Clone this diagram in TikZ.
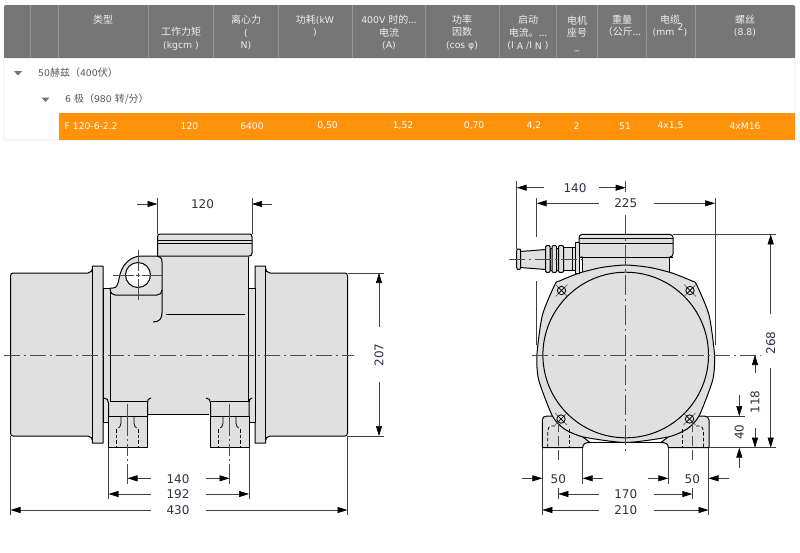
\documentclass[tikz,border=0pt]{standalone}
\usepackage{fontspec}
\setmainfont{DejaVu Sans}
\newfontfamily\cjk{Noto Sans CJK SC}
\newfontfamily\latf[Scale=0.93]{DejaVu Sans}
\usetikzlibrary{arrows.meta}
\definecolor{hdr}{RGB}{118,118,118}
\definecolor{hdrline}{RGB}{150,150,150}
\definecolor{hdrtxt}{RGB}{238,238,238}
\definecolor{orng}{RGB}{255,146,10}
\definecolor{body}{RGB}{224,224,224}
\definecolor{dimtxt}{RGB}{45,50,70}
\tikzset{
 x=1pt,y=-1pt,
 hd/.style={font=\fontsize{10}{12.6}\selectfont\cjk,text=hdrtxt,align=center,inner sep=0pt,anchor=center},
 rowt/.style={font=\fontsize{10}{12}\selectfont\cjk,text=black!65,inner sep=0pt,anchor=west},
 val/.style={font=\fontsize{9.2}{10}\selectfont,text=white,inner sep=0pt,anchor=center},
 dimt/.style={font=\fontsize{12}{12}\selectfont,text=dimtxt,inner sep=0pt,anchor=center},
 obj/.style={draw=black,line width=1pt,line join=round},
 objf/.style={obj,fill=body},
 thin1/.style={draw=black!75,line width=0.6pt},
 ctr/.style={draw=black!70,line width=0.6pt,dash pattern=on 16pt off 4pt on 2pt off 4pt},
 hid/.style={draw=black,line width=0.8pt,dash pattern=on 3.5pt off 2.2pt},
 dim/.style={draw=black!75,line width=0.6pt,-{Triangle[length=10pt,width=6pt,black]}},
}
\begin{document}
\begin{tikzpicture}
\useasboundingbox (0,0) rectangle (800,552);
\fill[white] (0,0) rectangle (800,552);
% ---------- table
\draw[black!8,line width=0.8pt,rounded corners=2pt,fill=white] (4,5) rectangle (795,140);
\fill[hdr,rounded corners=2pt] (4,5) rectangle (795,58);
\fill[hdr] (4,40) rectangle (795,58);
\foreach \xx in {30.5,58.5,148,213.5,278.5,352,425.5,499.5,556.5,597.5,646,695}{
 \draw[hdrline,line width=0.6pt] (\xx,5) -- (\xx,58);}
\fill[orng] (58.5,113) rectangle (795,139.5);
\node[hd] (h1) at (103,20) {类型};
\node[hd] (h2) at (181,38.7) {工作力矩\\{\latf(kgcm )}};
\node[hd] (h3) at (246,32.5) {离心力\\{\latf(}\\{\latf N)}};
\node[hd] (h4) at (315,26) {功耗{\latf(kW}\\{\latf)}};
\node[hd] (h5) at (389,32.5) {{\latf 400V }时的...\\电流\\{\latf(A)}};
\node[hd] (h6) at (462,32.5) {功率\\因数\\{\latf(cos φ)}};
\node[hd] (h7) at (528,32.5) {启动\\电流。...\\{\latf(I\raisebox{-1pt}{ A }/I\raisebox{-1pt}{ N })}};
\node[hd] (h8) at (577,33.5) {电机\\座号\\{\latf\_}};
\node[hd] (h9) at (622,26) {重量\\（公斤...};
\node[hd] (h10) at (670,26) {电缆\\{\latf(mm\quad)}};
\node[hd,font=\fontsize{9.5}{11}\selectfont] (h10b) at (680.5,27) {2};
\node[hd] (h11) at (745,26) {螺丝\\{\latf(8.8)}};
\fill[black!55] (14,71) -- (22,71) -- (18,75.5) -- cycle;
\fill[black!55] (41.5,97.5) -- (49.5,97.5) -- (45.5,102) -- cycle;
\node[rowt] (r1) at (38,73) {{\latf 50}赫兹（{\latf 400}伏）};
\node[rowt] (r2) at (65,99.5) {{\latf 6 }极（{\latf 980 }转/分）};
\node[val,anchor=west] (v1) at (64.5,126) {F 120-6-2.2};
\node[val] (v2) at (189.5,126) {120};
\node[val] (v3) at (252,126) {6400};
\node[val] (v4) at (327.5,126) {0,50};
\node[val] (v5) at (403,126) {1,52};
\node[val] (v6) at (474,126) {0,70};
\node[val] (v7) at (534,126) {4,2};
\node[val] (v8) at (576.5,126) {2};
\node[val] (v9) at (625,126) {51};
\node[val] (v10) at (670.5,126) {4x1,5};
\node[val] (v11) at (745,126) {4xM16};
% ---------- left view
\fill[body] (110,288) -- (113,288) .. controls (117,288) and (118,284) .. (119,279) .. controls (121,265) and (130,256) .. (142,256) -- (157,256) -- (157.5,234) -- (252,234) -- (252,256) -- (248,257) -- (248,414) -- (110,414) -- cycle;
\draw[objf] (10.5,276) .. controls (10.5,274) and (11.5,273) .. (13,273) -- (88,273) .. controls (91,273) and (92.5,271) .. (92.5,266) -- (103,266) -- (103,443) -- (92.5,443) .. controls (92.5,438) and (91,436) .. (88,436) -- (13,436) .. controls (11.5,436) and (10.5,435) .. (10.5,433) -- cycle;
\draw[objf] (347.5,276) .. controls (347.5,274) and (346.5,273) .. (345,273) -- (270,273) .. controls (267,273) and (265.5,271) .. (265.5,266) -- (255,266) -- (255,443) -- (265.5,443) .. controls (265.5,438) and (267,436) .. (270,436) -- (345,436) .. controls (346.5,436) and (347.5,435) .. (347.5,433) -- cycle;
\draw[obj] (92.5,266) -- (92.5,443) (265.5,266) -- (265.5,443);
\draw[objf] (103,288) rectangle (110,422);
\draw[objf] (248,288) rectangle (255,422);
\draw[obj] (110,288) -- (110,402);
\draw[obj] (248,257) -- (248,288);
% terminal box
\draw[objf] (157.5,256) -- (157.5,237) .. controls (157.5,235) and (158.5,234) .. (160,234) -- (249.5,234) .. controls (251,234) and (252,235) .. (252,237) -- (252,253) .. controls (252,255) and (251,256) .. (249,256) -- cycle;
\draw[obj] (157.5,240) -- (252,240);
\draw[obj] (157.5,243) -- (252,243);
% lug
\draw[objf] (110,288) -- (113,288) .. controls (117,288) and (118,284) .. (119,279) .. controls (121,265) and (130,256) .. (142,256) -- (157,256) .. controls (160,256) and (162,258) .. (162,262) -- (162,290) .. controls (162,293) and (160,295) .. (157,295) -- (115,295) .. controls (112,295) and (110.5,293) .. (110,288);
\draw[obj] (162,290) -- (162,313) .. controls (162,319) and (159,322) .. (153,322);
\draw[obj,fill=white] (138,275) circle[radius=12.5];
\draw[line width=0.5pt,black!70] (113,275) -- (134,275) (136,275) -- (140,275) (142,275) -- (163,275);
\draw[line width=0.5pt,black!70] (138,250) -- (138,271) (138,273) -- (138,277) (138,279) -- (138,300);
\draw[obj] (166,314) -- (244.5,314);
% feet
\draw[obj] (148,414) -- (209,414);
\draw[objf] (108.5,416.5) rectangle (147.5,447.5);
\draw[objf] (210,416.5) rectangle (249,447.5);
\fill[body] (108.5,401) rectangle (147,416);
\fill[body] (210,401) rectangle (248.5,416);
\draw[obj] (104,398) .. controls (107,398) and (108.5,400) .. (108.5,403) -- (108.5,416.5);
\draw[obj] (151,398) .. controls (148,398) and (147.5,400) .. (147.5,403) -- (147.5,416.5);
\draw[obj] (206,398) .. controls (209,398) and (210.5,400) .. (210.5,403) -- (210.5,416.5);
\draw[obj] (252,398) .. controls (250,398) and (249,400) .. (249,403) -- (249,416.5);
\draw[obj] (110,401) -- (147,401);
\draw[obj] (211,401) -- (248.5,401);
\foreach \cc in {127.5,229.5}{
 \draw[line width=0.75pt,black] (\cc-6.5,417) -- (\cc-6.5,423) .. controls (\cc-6.5,426) and (\cc-8,427) .. (\cc-9,428);
 \draw[line width=0.75pt,black] (\cc+6.5,417) -- (\cc+6.5,423) .. controls (\cc+6.5,426) and (\cc+8,427) .. (\cc+9,428);
 \draw[hid] (\cc-11,429) -- (\cc-11,447);
 \draw[hid] (\cc+11,429) -- (\cc+11,447);
 \draw[ctr,dash pattern=on 32pt off 3pt on 2pt off 3pt on 12pt off 3pt on 2pt off 3pt] (\cc,404) -- (\cc,484);
}
\draw[ctr] (4,355) -- (354,355);
% dims left
\coordinate (a120l) at (157.5,204); \coordinate (a120r) at (252,204);
\draw[thin1] (157.5,198) -- (157.5,234) (252,198) -- (252,234);
\draw[dim] (137,204) -- (a120l);
\draw[dim] (272,204) -- (a120r);
\node[dimt] (d120) at (202.5,204) {120};
\draw[thin1] (348,273) -- (384,273) (348,436) -- (384,436);
\coordinate (a207t) at (379,273); \coordinate (a207b) at (379,436);
\draw[dim] (379,327) -- (a207t);
\draw[dim] (379,382) -- (a207b);
\node[dimt,rotate=90] (d207) at (379,355) {207};
\draw[thin1] (108.5,448) -- (108.5,499) (249,448) -- (249,499);
\draw[thin1] (10.5,436) -- (10.5,515) (347.5,436) -- (347.5,515);
\coordinate (a140l) at (127.5,478.3); \coordinate (a140r) at (229.5,478.3);
\draw[dim] (151,478.3) -- (a140l);
\draw[dim] (206,478.3) -- (a140r);
\node[dimt] (d140) at (178,479) {140};
\coordinate (a192l) at (108.5,494); \coordinate (a192r) at (249,494);
\draw[dim] (151,494) -- (a192l);
\draw[dim] (206,494) -- (a192r);
\node[dimt] (d192) at (178,494.5) {192};
\coordinate (a430l) at (10.5,510); \coordinate (a430r) at (347.5,510);
\draw[dim] (151,510) -- (a430l);
\draw[dim] (206,510) -- (a430r);
\node[dimt] (d430) at (178,510) {430};
% ---------- right view
\draw[thin1] (536.7,198) -- (536.7,237) (536.7,281) -- (536.7,345);
\draw[thin1] (715,198) -- (715,345);
% feet
\draw[objf] (542.3,447.7) -- (542.3,420) .. controls (542.3,417.5) and (544,416) .. (547,416) -- (556,416) -- (590,442.5) .. controls (585,442.5) and (582.7,444) .. (582.7,447.7) -- cycle;
\draw[objf] (709,447.7) -- (709,420) .. controls (709,417.5) and (707,416) .. (704,416) -- (695,416) -- (661,442.5) .. controls (666,442.5) and (668.3,444) .. (668.3,447.7) -- cycle;
% terminal neck
\draw[objf] (582,250) rectangle (669,285);
% outer frame
\draw[objf] plot[smooth cycle,tension=0.4] coordinates {(625.7,265) (650,267.5) (672,273) (692,281) (696.5,284.5) (709,315) (714.5,355) (712.7,380) (699,416) (687,429) (668,437) (625.7,442.5) (583.4,437) (564.4,429) (552.4,416) (538.7,380) (536.9,355) (542.4,315) (554.9,284.5) (559.4,281) (579.4,273) (601.4,267.5)};
\draw[objf] (625.7,355) circle[radius=82.8];
% terminal box
\draw[objf] (579,257) -- (579,237.5) .. controls (579,235.5) and (580.5,234.3) .. (582.5,234.3) -- (669.5,234.3) .. controls (671.5,234.3) and (673,235.5) .. (673,237.5) -- (673,254) .. controls (673,256) and (671.5,257) .. (670,257) -- cycle;
\draw[obj] (579,238.5) -- (673,238.5) (579,243) -- (673,243);
\fill[body] (582.5,256) rectangle (668.5,264);
\draw[obj] (579,257) -- (673,257);
\draw[obj] (582,257) -- (582,268) (669,257) -- (669,272);
% cable gland
\draw[objf] (575.7,242) rectangle (579,273.5);
\draw[objf] (520,251.5) -- (546,249.5) -- (546,269.5) -- (520,267.5) -- cycle;
\draw[objf] (516.7,250.5) .. controls (516.7,249) and (517.5,249) .. (518.5,249) .. controls (520,249) and (520.5,249) .. (520.5,250.5) -- (520.5,267.5) .. controls (520.5,269) and (520,269.5) .. (518.5,269.5) .. controls (517.5,269.5) and (516.7,269) .. (516.7,267.5) -- cycle;
\draw[objf] (563,247.5) rectangle (575.7,270.5);
\draw[objf] (550,248) rectangle (558.5,270);
\draw[objf,rounded corners=1pt] (545.7,245.7) rectangle (550,272.3);
\draw[objf,rounded corners=1pt] (552,245.7) rectangle (556.7,272.3);
\draw[objf,rounded corners=1pt] (558.5,245.7) rectangle (563.5,272.3);
\draw[obj] (572,247.5) -- (572,270.5);
% bottom line
\draw[obj] (587,442.5) -- (664,442.5);
% screws
\foreach \sx/\sy in {561.5/290.5,690/290.5,561/419,689.5/419}{
 \draw[line width=0.45pt,black!70] (\sx-6,\sy-6) -- (\sx+6,\sy+6) (\sx-6,\sy+6) -- (\sx+6,\sy-6);
 \draw[line width=0.8pt,black] (\sx,\sy) circle[radius=4.2];
 \draw[line width=0.5pt,black] (\sx-3,\sy-3) -- (\sx+3,\sy+3) (\sx-3,\sy+3) -- (\sx+3,\sy-3);
}
% foot hidden
\draw[hid] (547.7,447) -- (547.7,431) .. controls (548,428) and (549,426) .. (552,426) -- (557,426);
\draw[hid] (569,429) -- (569,447);
\draw[hid] (703.5,447) -- (703.5,431) .. controls (703,428) and (702,426) .. (699,426) -- (694,426);
\draw[hid] (682,429) -- (682,447);
% centre lines
\draw[ctr] (625.7,181) -- (625.7,192);
\draw[ctr,dash pattern=on 20pt off 4pt on 2pt off 4pt] (625.7,215) -- (625.7,454);
\draw[ctr] (532,355) -- (761,355);
\draw[ctr] (509,259) -- (586,259);
\draw[ctr,dash pattern=on 10pt off 4pt] (558.3,422) -- (558.3,464);
\draw[ctr,dash pattern=on 10pt off 4pt] (692.3,422) -- (692.3,464);
% dims right
\draw[thin1] (516.7,181) -- (516.7,249);
\coordinate (b140l) at (516.7,187.7); \coordinate (b140r) at (625.7,187.7);
\draw[dim] (544,187.7) -- (b140l);
\draw[dim] (599,187.7) -- (b140r);
\node[dimt] (e140) at (575,188) {140};
\coordinate (b225l) at (536.7,203.3); \coordinate (b225r) at (715,203.3);
\draw[dim] (599,203.3) -- (b225l);
\draw[dim] (654,203.3) -- (b225r);
\node[dimt] (e225) at (625.7,203.5) {225};
\draw[thin1] (673,234.3) -- (776,234.3) (709,447.7) -- (776,447.7);
\coordinate (b268t) at (770.7,234.3); \coordinate (b268b) at (770.7,447.7);
\draw[dim] (770.7,314) -- (b268t);
\draw[dim] (770.7,368) -- (b268b);
\node[dimt,rotate=90] (e268) at (770.7,343) {268};
\coordinate (b118b) at (755,447.7); \coordinate (b118t) at (755,355);
\draw[dim] (755,428) -- (b118b);
\draw[dim] (755,373) -- (b118t);
\node[dimt,rotate=90] (e118) at (755,402) {118};
\draw[thin1] (707,416) -- (745,416);
\coordinate (b40t) at (739.3,416); \coordinate (b40b) at (739.3,447.7);
\draw[dim] (739.3,395) -- (b40t);
\draw[dim] (739.3,468) -- (b40b);
\node[dimt,rotate=90] (e40) at (739.3,432) {40};
\draw[thin1] (542.3,448) -- (542.3,515) (582.7,448) -- (582.7,484) (668.3,448) -- (668.3,484) (708.5,448) -- (708.5,515);
\draw[thin1] (558.3,488) -- (558.3,499) (692.3,488) -- (692.3,499);
\coordinate (c50a) at (542.3,478.3); \coordinate (c50b) at (582.7,478.3); \coordinate (c50c) at (668.3,478.3); \coordinate (c50d) at (708.5,478.3);
\draw[dim] (522,478.3) -- (c50a);
\draw[dim] (603,478.3) -- (c50b);
\draw[dim] (648,478.3) -- (c50c);
\draw[dim] (729,478.3) -- (c50d);
\node[dimt] (e50a) at (558.3,479) {50};
\node[dimt] (e50b) at (692.3,479) {50};
\coordinate (c170a) at (558.3,494); \coordinate (c170b) at (692.3,494);
\draw[dim] (599,494) -- (c170a);
\draw[dim] (654,494) -- (c170b);
\node[dimt] (e170) at (625.7,494.5) {170};
\coordinate (c210a) at (542.3,510); \coordinate (c210b) at (708.5,510);
\draw[dim] (599,510) -- (c210a);
\draw[dim] (654,510) -- (c210b);
\node[dimt] (e210) at (625.7,510) {210};
\end{tikzpicture}
\end{document}
